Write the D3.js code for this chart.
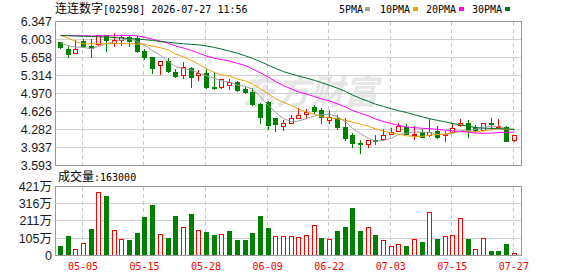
<!DOCTYPE html>
<html><head><meta charset="utf-8">
<script src="https://cdn.jsdelivr.net/npm/d3@7"></script>
<style>html,body{margin:0;padding:0;background:#fff;overflow:hidden}svg{display:block}</style>
</head><body><svg id="c" width="578" height="276"></svg>
<script>
// ---------------- data ----------------
const dates = ["04-29","04-30","05-04","05-05","05-06","05-07","05-08","05-11","05-12","05-13",
  "05-14","05-15","05-18","05-19","05-20","05-21","05-22","05-26","05-27","05-28",
  "05-29","06-01","06-02","06-03","06-04","06-05","06-08","06-09","06-10","06-11",
  "06-12","06-15","06-16","06-17","06-18","06-22","06-23","06-24","06-25","06-26",
  "06-29","06-30","07-02","07-03","07-06","07-07","07-08","07-09","07-10","07-13",
  "07-14","07-15","07-16","07-17","07-20","07-21","07-22","07-23","07-24","07-27"];
const opens = [5.95,5.821,5.739,5.965,5.884,5.917,6.089,5.93,6.0,6.05,
  6.022,5.789,5.662,5.521,5.597,5.387,5.324,5.452,5.324,5.368,
  5.10,5.088,5.138,5.19,5.05,5.004,4.769,4.813,4.508,4.358,
  4.415,4.511,4.585,4.717,4.654,4.47,4.50,4.32,4.167,4.03,
  4.004,4.09,4.094,4.196,4.26,4.337,4.176,4.23,4.17,4.254,
  4.17,4.234,4.373,4.406,4.33,4.28,4.406,4.335,4.324,4.075];
const highs = [5.96,5.869,5.984,6.012,6.01,6.09,6.098,6.133,6.095,6.07,
  6.079,5.83,5.668,5.601,5.645,5.433,5.582,5.477,5.42,5.433,
  5.39,5.25,5.241,5.20,5.10,5.066,4.779,4.827,4.51,4.454,
  4.565,4.693,4.674,4.75,4.693,4.654,4.559,4.496,4.209,4.08,
  4.085,4.17,4.30,4.305,4.40,4.386,4.34,4.29,4.482,4.348,
  4.262,4.41,4.482,4.454,4.36,4.40,4.507,4.477,4.35,4.17];
const lows = [5.84,5.662,5.739,5.854,5.674,5.90,5.783,5.873,5.90,5.888,
  5.764,5.636,5.353,5.349,5.372,5.291,5.26,5.10,5.228,5.066,
  5.062,5.08,5.056,5.018,4.974,4.75,4.406,4.285,4.262,4.272,
  4.41,4.51,4.511,4.59,4.415,4.406,4.291,4.08,3.953,3.832,
  3.947,3.995,4.09,4.19,4.255,4.196,4.104,4.138,4.165,4.119,
  4.07,4.23,4.354,4.138,4.243,4.272,4.30,4.33,4.065,4.07];
const closes = [5.865,5.725,5.821,5.884,5.845,6.083,5.993,6.0,6.045,5.98,
  5.789,5.668,5.452,5.601,5.391,5.31,5.48,5.291,5.353,5.10,
  5.066,5.241,5.199,5.037,4.999,4.769,4.515,4.377,4.381,4.40,
  4.496,4.563,4.607,4.639,4.526,4.53,4.333,4.113,4.02,4.01,
  4.08,4.075,4.176,4.24,4.356,4.20,4.205,4.138,4.243,4.138,
  4.20,4.305,4.40,4.265,4.275,4.40,4.387,4.358,4.067,4.17];
const volumes = [610000,1160000,410000,790000,1590000,3890000,3600000,1570000,1020000,960000,
  1400000,2320000,3110000,1320000,1040000,2380000,1750000,2560000,1570000,1460000,
  1280000,1340000,1520000,920000,920000,1360000,2440000,1650000,1160000,1220000,
  1160000,1100000,1280000,1890000,1040000,980000,1520000,1710000,2870000,1520000,
  1710000,1280000,920000,550000,730000,550000,980000,810000,2680000,980000,
  1160000,1280000,2260000,980000,370000,1040000,300000,300000,730000,163000];
const ma5Head = [5.94,5.88,5.86,5.85];
const ma10Head = [6.08,6.03,5.96,5.92,5.92,5.92,5.925,5.925,5.927];
const ma20Head = [6.08,6.08,6.075,6.075,6.07,6.075,6.075,6.075,6.08,6.08,6.075,6.045,6.01,5.97,5.93,5.88,5.84,5.79,5.745];
const ma30Head = [6.08,6.075,6.07,6.065,6.06,6.055,6.05,6.04,6.03,6.02,6.01,6.0,5.985,5.965,5.95,5.935,5.92,5.91,5.90,5.88,5.85,5.82,5.78,5.74,5.69,5.64,5.58,5.51,5.45];
const priceTicks = [6.347,6.003,5.658,5.314,4.970,4.626,4.282,3.937,3.593];
const volTicks = [4210000,3160000,2110000,1050000,0];
const volTickLabels = ["421万","316万","211万","105万","0"];
const dateTicks = ["05-05","05-15","05-28","06-09","06-22","07-03","07-15","07-27"];
const titleName = "连连数字";
const titleRest = "[02598] 2026-07-27 11:56";
const volLabelName = "成交量";
const volLabelRest = ":163000";
const legendNames = ["5PMA","10PMA","20PMA","30PMA"];
const maColors = ["#a0a0a0","#f0a30a","#ff00ff","#00702d"];

// ---------------- drawing ----------------
const RED = "#ff0000", GREEN = "#008000";
const svg = d3.select("#c");
const step = 7.695;
const x = d3.scaleBand().domain(dates).range([56, 56 + step * dates.length]);
const xc = d => Math.round(x(d) + x.bandwidth() / 2);
const yP = d3.scaleLinear().domain([3.593, 6.347]).range([165.5, 21.5]);
const yV = d3.scaleLinear().domain([0, 4210000]).range([255.5, 186.5]);
const crisp = v => Math.round(v - 0.5) + 0.5;

const n = dates.length;
function ma(head, k) {
  const out = [];
  for (let i = 0; i < n; i++) {
    if (i < head.length) out.push(head[i]);
    else out.push(d3.mean(closes.slice(i - k + 1, i + 1)));
  }
  return out;
}
const mas = [ma(ma5Head, 5), ma(ma10Head, 10), ma(ma20Head, 20), ma(ma30Head, 30)];

// watermark
svg.append("text").attr("x", 242).attr("y", 104)
  .attr("font-family", "Noto Sans CJK SC").attr("font-size", 34).attr("font-weight", "bold")
  .attr("font-style", "italic").attr("fill", "#e6e6e6").text("东方财富");

// grids
const grid = svg.append("g");
priceTicks.slice(1, -1).forEach(v => {
  grid.append("line").attr("x1", 56).attr("x2", 522).attr("y1", crisp(yP(v))).attr("y2", crisp(yP(v)))
    .attr("stroke", "#d0d0d0").attr("stroke-width", 1);
});
volTicks.slice(1, -1).forEach(v => {
  grid.append("line").attr("x1", 56).attr("x2", 522).attr("y1", crisp(yV(v))).attr("y2", crisp(yV(v)))
    .attr("stroke", "#d0d0d0").attr("stroke-width", 1);
});
dateTicks.forEach(d => {
  const gx = xc(d) - 0.5;
  [[22, 165], [187, 255]].forEach(([a, b]) => {
    grid.append("line").attr("x1", gx).attr("x2", gx).attr("y1", a).attr("y2", b)
      .attr("stroke", "#c8c8c8").attr("stroke-dasharray", "4,3");
  });
});

// candles
const cg = svg.append("g");
dates.forEach((d, i) => {
  const cx = xc(d);
  const up = closes[i] >= opens[i];
  const col = up ? RED : GREEN;
  const yo = yP(opens[i]), yc = yP(closes[i]);
  const top = Math.round(Math.min(yo, yc)), bot = Math.round(Math.max(yo, yc));
  cg.append("line").attr("x1", cx + 0.5).attr("x2", cx + 0.5)
    .attr("y1", Math.round(yP(highs[i]))).attr("y2", Math.round(yP(lows[i])) + 1)
    .attr("stroke", col).attr("stroke-width", 1);
  if (up) {
    cg.append("rect").attr("x", cx - 1.5).attr("y", top + 0.5).attr("width", 4)
      .attr("height", Math.max(bot - top, 1)).attr("fill", "#fff").attr("stroke", col).attr("stroke-width", 1);
  } else {
    cg.append("rect").attr("x", cx - 2).attr("y", top).attr("width", 5)
      .attr("height", Math.max(bot - top, 1) + 1).attr("fill", col);
  }
});

// MA lines
const line = d3.line().x((v, i) => xc(dates[i]) + 0.5).y(v => yP(v));
mas.forEach((arr, k) => {
  svg.append("path").attr("d", line(arr)).attr("fill", "none")
    .attr("stroke", maColors[k]).attr("stroke-width", 1);
});

// volume bars
const vg = svg.append("g");
dates.forEach((d, i) => {
  const cx = xc(d);
  const prev = i === 0 ? opens[0] : closes[i - 1];
  const up = closes[i] > prev;
  const t = Math.round(yV(volumes[i]));
  if (up) {
    vg.append("rect").attr("x", cx - 1.5).attr("y", t + 0.5).attr("width", 4)
      .attr("height", Math.max(255 - t, 1)).attr("fill", "#fff").attr("stroke", RED).attr("stroke-width", 1);
  } else {
    vg.append("rect").attr("x", cx - 2).attr("y", t).attr("width", 5)
      .attr("height", 256 - t).attr("fill", GREEN);
  }
});

// frames
svg.append("rect").attr("x", 55.5).attr("y", 21.5).attr("width", 466).attr("height", 144)
  .attr("fill", "none").attr("stroke", "#999");
svg.append("rect").attr("x", 55.5).attr("y", 186.5).attr("width", 466).attr("height", 69)
  .attr("fill", "none").attr("stroke", "#999");

// axes
const axP = svg.append("g").attr("transform", "translate(56,0)")
  .call(d3.axisLeft(yP).tickValues(priceTicks).tickSize(0).tickPadding(4).tickFormat(d3.format(".3f")));
const axV = svg.append("g").attr("transform", "translate(56,0)")
  .call(d3.axisLeft(yV).tickValues(volTicks).tickSize(0).tickPadding(4)
    .tickFormat((v, i) => volTickLabels[i]));
[axP, axV].forEach(a => {
  a.select(".domain").remove();
  a.selectAll("text").attr("font-family", "Liberation Sans, Noto Sans CJK SC").attr("font-size", 12.5).attr("fill", "#1a1a1a");
});
const axX = svg.append("g").attr("transform", "translate(0,255)")
  .call(d3.axisBottom(x).tickValues(dateTicks).tickSize(0).tickPadding(8));
axX.select(".domain").remove();
axX.selectAll("text").attr("font-family", "DejaVu Sans Mono").attr("font-size", 10).attr("fill", RED);

// title
const tt = svg.append("text").attr("x", 55).attr("y", 12.5).attr("fill", "#000");
tt.append("tspan").attr("font-family", "Noto Sans CJK SC").attr("font-size", 12).text(titleName);
tt.append("tspan").attr("font-family", "DejaVu Sans Mono").attr("font-size", 10).attr("xml:space", "preserve").text(titleRest);

// volume label
const vt = svg.append("text").attr("x", 58).attr("y", 181).attr("fill", "#000");
vt.append("tspan").attr("font-family", "Noto Sans CJK SC").attr("font-size", 12).text(volLabelName);
vt.append("tspan").attr("font-family", "DejaVu Sans Mono").attr("font-size", 10).text(volLabelRest);

// legend
const legX = [339, 380, 426, 472];
const sqX = [365, 413, 459, 505];
legendNames.forEach((nm, k) => {
  svg.append("text").attr("x", legX[k]).attr("y", 12.5).attr("font-family", "DejaVu Sans Mono")
    .attr("font-size", 10).attr("fill", "#000").text(nm);
  svg.append("rect").attr("x", sqX[k]).attr("y", 7).attr("width", 5).attr("height", 4).attr("fill", maColors[k]);
});
</script></body></html>
